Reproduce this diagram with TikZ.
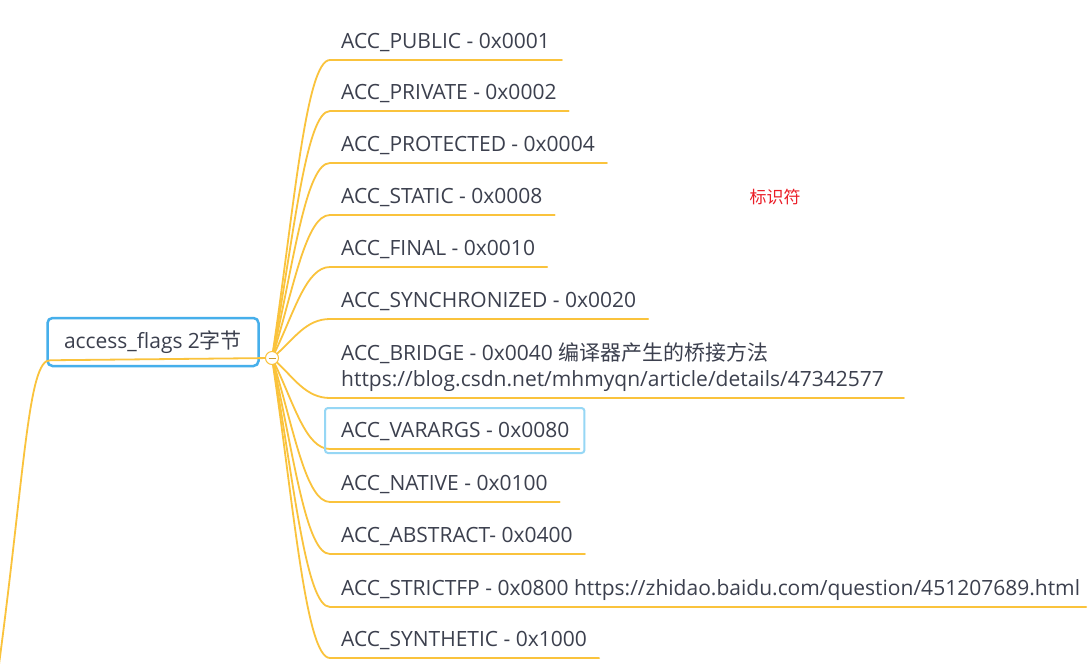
\documentclass[tikz,border=0pt]{standalone}
\usepackage{fontspec}
\setmainfont{Open Sans}
\newfontfamily\cjk{Noto Sans CJK SC}
\definecolor{branchorange}{RGB}{250,195,60}
\definecolor{rootblue}{RGB}{70,175,235}
\definecolor{selblue}{RGB}{150,215,245}
\definecolor{textgray}{RGB}{60,64,78}
\definecolor{notered}{RGB}{235,30,40}
\tikzset{
  leaf/.style={anchor=base west, inner sep=0pt, text=textgray, font=\fontsize{21}{26}\selectfont},
  branch/.style={draw=branchorange, line width=1.8pt, line cap=round},
}

\begin{document}
\begin{tikzpicture}[x=1pt, y=-1pt]
  \fill[white] (0,0) rectangle (1090,670);
  \useasboundingbox (0,0) rectangle (1090,670);

  % root topic
  \node[draw=rootblue, line width=2.5pt, rounded corners=5pt, minimum width=211pt, minimum height=48pt, inner sep=0pt, text=textgray, font=\fontsize{21}{26}\selectfont] (root) at (153,342) {access\_flags 2{\cjk 字节}};
  \node[circle, draw=branchorange, fill=white, line width=1pt, minimum size=13pt, inner sep=0pt] (fold) at (272,358) {};
  \draw[branchorange!80!black, line width=1pt] ([xshift=-3.5pt]fold.center) -- ([xshift=3.5pt]fold.center);
  \coordinate (parentin) at (-2,672);
  \draw[branch] (parentin) .. controls (25,470) and (28,359) .. ([shift={(4,-7)}]root.south west) -- (fold);

  % children
  \node[leaf] (public) at (341,48) {ACC\_PUBLIC - 0x0001};
  \node[leaf] (private) at (341,99) {ACC\_PRIVATE - 0x0002};
  \node[leaf] (protected) at (341,151) {ACC\_PROTECTED - 0x0004};
  \node[leaf] (static) at (341,203) {ACC\_STATIC - 0x0008};
  \node[leaf] (final) at (341,255) {ACC\_FINAL - 0x0010};
  \node[leaf] (synchronized) at (341,307) {ACC\_SYNCHRONIZED - 0x0020};
  \node[leaf, align=left] (bridge) at (341,386) {ACC\_BRIDGE - 0x0040 {\cjk 编译器产生的桥接方法}\\https://blog.csdn.net/mhmyqn/article/details/47342577};
  \node[leaf] (varargs) at (341,437) {ACC\_VARARGS - 0x0080};
  \node[leaf] (native) at (341,490) {ACC\_NATIVE - 0x0100};
  \node[leaf] (abstract) at (341,542) {ACC\_ABSTRACT- 0x0400};
  \node[leaf] (strictfp) at (341,595) {ACC\_STRICTFP - 0x0800 https://zhidao.baidu.com/question/451207689.html};
  \node[leaf] (synthetic) at (341,646) {ACC\_SYNTHETIC - 0x1000};

  \draw[branch] (fold) .. controls (294,209) and (306,60) .. ([shift={(-11,12)}]public.base west) -- ([shift={(12,12)}]public.base east);
  \draw[branch] (fold) .. controls (294,235) and (306,111) .. ([shift={(-11,12)}]private.base west) -- ([shift={(12,12)}]private.base east);
  \draw[branch] (fold) .. controls (294,261) and (306,163) .. ([shift={(-11,12)}]protected.base west) -- ([shift={(12,12)}]protected.base east);
  \draw[branch] (fold) .. controls (294,287) and (306,215) .. ([shift={(-11,12)}]static.base west) -- ([shift={(12,12)}]static.base east);
  \draw[branch] (fold) .. controls (294,313) and (306,267) .. ([shift={(-11,12)}]final.base west) -- ([shift={(12,12)}]final.base east);
  \draw[branch] (fold) .. controls (294,339) and (306,319) .. ([shift={(-11,12)}]synchronized.base west) -- ([shift={(12,12)}]synchronized.base east);
  \draw[branch] (fold) .. controls (294,378) and (306,398) .. ([shift={(-11,12)}]bridge.base west) -- ([shift={(20,12)}]bridge.base east);
  \draw[branch] (fold) .. controls (294,404) and (306,449) .. ([shift={(-11,12)}]varargs.base west) -- ([shift={(10,12)}]varargs.base east);
  \draw[branch] (fold) .. controls (294,430) and (306,502) .. ([shift={(-11,12)}]native.base west) -- ([shift={(12,12)}]native.base east);
  \draw[branch] (fold) .. controls (294,456) and (306,554) .. ([shift={(-11,12)}]abstract.base west) -- ([shift={(12,12)}]abstract.base east);
  \draw[branch] (fold) .. controls (294,483) and (306,607) .. ([shift={(-11,12)}]strictfp.base west) -- ([shift={(6,12)}]strictfp.base east);
  \draw[branch] (fold) .. controls (294,508) and (306,658) .. ([shift={(-11,12)}]synthetic.base west) -- ([shift={(12,12)}]synthetic.base east);

  % selected topic
  \draw[selblue, line width=2pt, rounded corners=3pt] ([shift={(-16,-29)}]varargs.base west) rectangle ([shift={(15,16)}]varargs.base east);

  \node[text=notered, font=\fontsize{17}{20}\selectfont\cjk] (note) at (775,197) {标识符};
\end{tikzpicture}
\end{document}
